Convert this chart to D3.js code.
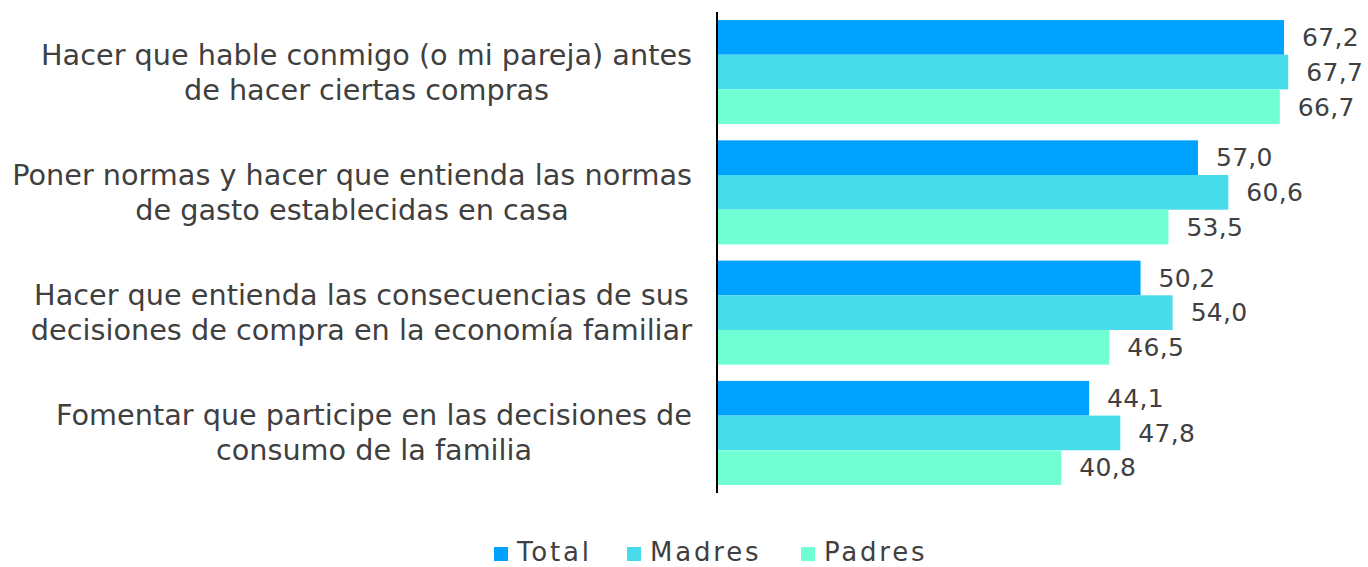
<!DOCTYPE html>
<html>
<head>
<meta charset="utf-8">
<script src="https://cdn.jsdelivr.net/npm/d3@7"></script>
<style>
  body { margin: 0; background: #fff; }
  text { font-family: "DejaVu Sans", sans-serif; fill: #404040; }
</style>
</head>
<body>
<div id="chart"></div>
<script>
// chart data
var categories = [
    ["Hacer que hable conmigo (o mi pareja) antes", "de hacer ciertas compras"],
    ["Poner normas y hacer que entienda las normas", "de gasto establecidas en casa"],
    ["Hacer que entienda las consecuencias de sus", "decisiones de compra en la economía familiar"],
    ["Fomentar que participe en las decisiones de", "consumo de la familia"]
];
var seriesNames = ["Total", "Madres", "Padres"];
var totalValues = [67.2, 57.0, 50.2, 44.1];
var madresValues = [67.7, 60.6, 54.0, 47.8];
var padresValues = [66.7, 53.5, 46.5, 40.8];
var colors = ["#00a2ff", "#48dcea", "#6fffd2"];

var width = 1368, height = 567;
var axisX = 717, plotTop = 12, plotBottom = 493;

var svg = d3.select("#chart").append("svg")
    .attr("width", width)
    .attr("height", height);

var y0 = d3.scaleBand()
    .domain(d3.range(categories.length))
    .range([plotTop, plotBottom])
    .paddingInner(0.135)
    .paddingOuter(0.067);

var y1 = d3.scaleBand()
    .domain(seriesNames)
    .range([0, y0.bandwidth()]);

var x = d3.scaleLinear()
    .domain([0, 67.2])
    .range([axisX, 1284]);

var seriesValues = [totalValues, madresValues, padresValues];
var rows = [];
categories.forEach(function (c, i) {
    seriesNames.forEach(function (s, j) {
        rows.push({cat: i, series: s, color: colors[j], value: seriesValues[j][i]});
    });
});

var fmt = function (v) { return v.toFixed(1).replace(".", ","); };

svg.selectAll(".bar")
    .data(rows)
    .enter().append("rect")
    .attr("class", "bar")
    .attr("x", x(0))
    .attr("y", function (d) { return y0(d.cat) + y1(d.series); })
    .attr("width", function (d) { return x(d.value) - x(0); })
    .attr("height", y1.bandwidth())
    .attr("fill", function (d) { return d.color; });

svg.selectAll(".val")
    .data(rows)
    .enter().append("text")
    .attr("class", "val")
    .attr("x", function (d) { return x(d.value) + 18; })
    .attr("y", function (d) { return y0(d.cat) + y1(d.series) + y1.bandwidth() / 2; })
    .attr("dy", "0.35em")
    .style("font-size", "25px")
    .style("letter-spacing", "0.3px")
    .text(function (d) { return fmt(d.value); });

// axis line
svg.append("line")
    .attr("x1", axisX).attr("x2", axisX)
    .attr("y1", plotTop).attr("y2", plotBottom)
    .attr("stroke", "#000")
    .attr("stroke-width", 2);

// category labels, scaled to fit
var labelFont = 24;
var labels = svg.selectAll(".cat")
    .data(categories)
    .enter().append("text")
    .attr("class", "cat")
    .style("font-size", labelFont + "px")
    .attr("text-anchor", "middle");

labels.selectAll("tspan")
    .data(function (d) { return d; })
    .enter().append("tspan")
    .text(function (d) { return d; });

var maxW = 0;
labels.selectAll("tspan").each(function () {
    maxW = Math.max(maxW, this.getComputedTextLength());
});
labelFont = labelFont * 680 / maxW;
labels.style("font-size", labelFont + "px");

labels.each(function (d, i) {
    var t = d3.select(this);
    var w = 0;
    t.selectAll("tspan").each(function () { w = Math.max(w, this.getComputedTextLength()); });
    var cx = 692 - w / 2;
    var cy = y0(i) + y0.bandwidth() / 2;
    t.selectAll("tspan")
        .attr("x", cx)
        .attr("y", function (s, k) { return cy + (k - 0.5) * 35; })
        .attr("dy", "0.35em");
});

// legend
var legendX = [494, 627, 801];
var legend = svg.selectAll(".legend")
    .data(seriesNames)
    .enter().append("g")
    .attr("class", "legend")
    .attr("transform", function (d, i) { return "translate(" + legendX[i] + ",552)"; });

legend.append("rect")
    .attr("x", 0).attr("y", -5)
    .attr("width", 14).attr("height", 14)
    .attr("fill", function (d, i) { return colors[i]; });

legend.append("text")
    .attr("x", 23)
    .attr("dy", "0.35em")
    .style("font-size", "26px")
    .style("letter-spacing", "2.8px")
    .text(function (d) { return d; });
</script>
</body>
</html>
